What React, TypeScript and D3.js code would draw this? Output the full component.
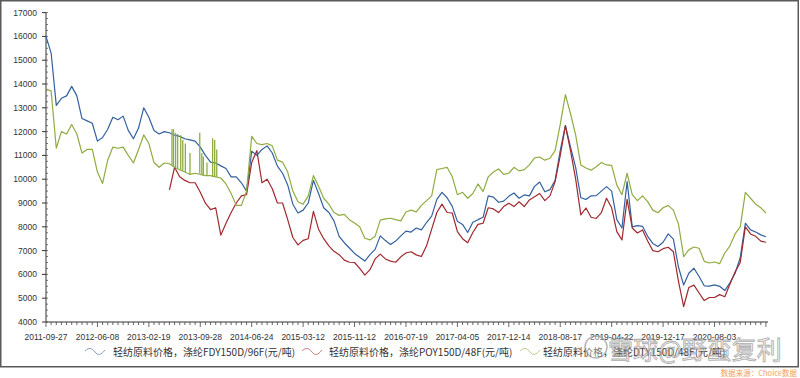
import React from 'react';
import * as d3 from 'd3';

const tickLabels = ['2011-09-27','2012-06-08','2013-02-19','2013-09-28','2014-06-24','2015-03-12','2015-11-12','2016-07-19','2017-04-05','2017-12-14','2018-08-17','2019-04-22','2019-12-17','2020-08-03'];

const seriesNames = [
  '轻纺原料价格，涤纶FDY150D/96F(元/吨)',
  '轻纺原料价格，涤纶POY150D/48F(元/吨)',
  '轻纺原料价格，涤纶DTY150D/48F(元/吨)',
];

const fdySeries: (number | null)[] = [
  16000, 15300, 13100, 13400, 13500, 13900, 13500, 12550, 12450, 12350,
  11600, 11750, 12100, 12600, 12500, 12650, 12050, 11700, 12150, 13000,
  12600, 12050, 11900, 12000, 11950, 11850, 11800, 11700, 11650, 11600,
  11350, 11000, 10720, 10680, 10560, 10450, 10100, 10100, 9850, 9500,
  11180, 11000, 11250, 11400, 11100, 10550, 10250, 9760, 8950, 8580,
  8700, 9000, 9950, 9400, 8800, 8600, 8250, 7600, 7330, 7110,
  6880, 6720, 6560, 6830, 7050, 7620, 7420, 7260, 7400, 7620,
  7820, 7780, 7950, 7870, 8180, 8450, 9150, 9450, 9220, 8860,
  8230, 8100, 7760, 8190, 8300, 8400, 9300, 9250, 9030, 9080,
  9280, 9420, 9200, 9340, 9300, 9700, 9880, 9470, 9560, 9950,
  11200, 12250, 11350, 10500, 9220, 9150, 9300, 9310, 9500, 9690,
  9500, 8300, 7950, 9900, 8000, 8050, 8020, 7600, 7300, 7170,
  7350, 7700, 7480, 6300, 5550, 6050, 6260, 5910, 5520, 5510,
  5560, 5500, 5320, 5650, 6050, 6700, 8150, 7870, 7780, 7660,
  7580,
];

const poySeries: (number | null)[] = [
  null, null, null, null, null, null, null, null, null, null,
  null, null, null, null, null, null, null, null, null, null,
  null, null, null, null, 9550, 10500, 10100, 9950, 9850, 9850,
  9450, 8990, 8720, 8800, 7650, 8150, 8600, 9000, 9300, 9350,
  10700, 11200, 9850, 10000, 9600, 9000, 9000, 8300, 7550, 7240,
  7430, 7500, 8650, 7900, 7500, 7200, 6970, 6830, 6600, 6510,
  6500, 6250, 5970, 6200, 6650, 6850, 6650, 6560, 6510, 6740,
  6900, 6950, 6820, 6750, 7200, 7900, 8600, 8950, 8600, 8580,
  7800, 7500, 7330, 7760, 8100, 8150, 8800, 8750, 8600, 8850,
  8990, 8850, 9050, 8850, 9130, 9260, 9400, 9100, 9300, 9900,
  11000, 12250, 11200, 10000, 8500, 8790, 8400, 8350, 8600, 9200,
  8800, 7800, 7450, 9150, 7950, 7740, 7870, 7400, 7000, 6950,
  7080, 7140, 6950, 5700, 4650, 5450, 5550, 5220, 4900, 5030,
  5030, 5150, 5060, 5600, 6100, 6500, 8000, 7700, 7600, 7400,
  7350,
];

const dtySeries: (number | null)[] = [
  13800, 13700, 11300, 12000, 11900, 12300, 11900, 11100, 11250, 11250,
  10300, 9820, 10800, 11350, 11300, 11350, 11000, 10680, 11250, 11860,
  11500, 10700, 10500, 10680, 10650, 10500, 10400, 10300, 10200, 10250,
  10200, 10150, 10150, 10100, 10050, 9800, 9400, 8900, 8900, 9500,
  11800, 11500, 11450, 11500, 11400, 10800, 10720, 10300, 9500, 9050,
  8950, 9300, 10150, 9700, 9200, 8950, 8600, 8480, 8520, 8300,
  8160, 8000, 7520, 7450, 7600, 8280, 8330, 8360, 8300, 8250,
  8620, 8700, 8630, 8900, 9100, 9300, 10400, 10450, 10500, 10100,
  9350, 9450, 9200, 9400, 9800, 9480, 10100, 10300, 10430, 10200,
  10250, 10500, 10350, 10400, 10600, 10900, 10930, 10800, 10880, 11200,
  12300, 13550, 12750, 11850, 10600, 10470, 10380, 10520, 10700, 10600,
  10580, 9750, 9350, 10250, 9350, 9100, 9300, 9060, 8700, 8590,
  8800, 8900, 8700, 8100, 6750, 7030, 7150, 7100, 6550, 6480,
  6520, 6450, 6900, 7200, 7700, 8000, 9450, 9200, 8950, 8800,
  8580,
];

// DTY series short-lived jumps: [index, low, high]
const dtySpikes: [number, number, number][] = [
  [24.5, 10600, 12100], [24.8, 10500, 12100], [25.2, 10500, 11950], [25.6, 10450, 11900],
  [26.2, 10400, 11850], [26.6, 10350, 11650], [27.1, 10300, 11500], [28.0, 10200, 11100],
  [29.9, 10250, 11950], [30.3, 10200, 11100], [30.6, 10150, 10950], [31.3, 10150, 10700],
  [32.4, 10100, 11720], [32.8, 10100, 11650], [33.2, 10100, 11250],
];

const yTickValues = [4000, 5000, 6000, 7000, 8000, 9000, 10000, 11000, 12000, 13000, 14000, 15000, 16000, 17000];
const colors = ['#33609e', '#a0282e', '#8fac42'];

export default function App() {
  const x = d3.scaleLinear().domain([0, 140.4]).range([46, 768]);
  const y = d3.scaleLinear().domain([4000, 17000]).range([322, 12.6]);
  const line = d3
    .line<number | null>()
    .defined((d) => d != null)
    .x((_, i) => x(i))
    .y((d) => y(d as number));

  const allSeries = [fdySeries, poySeries, dtySeries];
  const minorX = d3.range(0, 141);
  const minorY = d3.range(4000, 17001, 250);
  const numFont = '"Liberation Sans", Arial, sans-serif';
  const cjkFont = '"Noto Sans CJK SC", "Liberation Sans", sans-serif';

  const legendPos = [
    { icon: 85, text: 113 },
    { icon: 302, text: 329 },
    { icon: 520, text: 543 },
  ];
  const legendY = 352;

  return (
    <svg width={800} height={378} style={{ position: 'absolute', left: 0, top: 0, background: '#fff' }}>
      <rect x={0} y={0} width={800} height={378} fill="#fff" />
      <rect x={0.75} y={0.75} width={797.5} height={366} fill="none" stroke="#5a5a5a" strokeWidth={1.5} />

      {/* y axis */}
      <line x1={46} x2={46} y1={y(17000)} y2={322} stroke="#333" strokeWidth={1} />
      {minorY.map((v) => (
        <line key={'my' + v} x1={46} x2={48} y1={y(v)} y2={y(v)} stroke="#555" strokeWidth={0.8} />
      ))}
      {yTickValues.map((v) => (
        <g key={'y' + v}>
          <line x1={42} x2={46} y1={y(v)} y2={y(v)} stroke="#333" strokeWidth={1} />
          <text x={37} y={y(v) + 3} textAnchor="end" fontSize={8.5} fontFamily={numFont} fill="#333">
            {v}
          </text>
        </g>
      ))}

      {/* x axis */}
      <line x1={46} x2={768} y1={322} y2={322} stroke="#333" strokeWidth={1} />
      {minorX.map((i) => (
        <line key={'mx' + i} x1={x(i)} x2={x(i)} y1={322} y2={i % 10 === 0 ? 327 : 325} stroke="#444" strokeWidth={0.8} />
      ))}
      {tickLabels.map((t, k) => (
        <text key={t} x={x(k * 10)} y={339.5} textAnchor="middle" fontSize={8.5} fontFamily={numFont} fill="#333">
          {t}
        </text>
      ))}

      {/* series */}
      {allSeries.map((s, k) => (
        <path key={'s' + k} d={line(s) || ''} fill="none" stroke={colors[k]} strokeWidth={1.2} strokeLinejoin="round" />
      ))}
      {dtySpikes.map(([i, lo, hi], k) => (
        <line key={'sp' + k} x1={x(i)} x2={x(i)} y1={y(lo)} y2={y(hi)} stroke={colors[2]} strokeWidth={1.3} />
      ))}

      {/* legend */}
      {seriesNames.map((name, k) => {
        const ix = legendPos[k].icon;
        const iy = legendY;
        return (
          <g key={'lg' + k}>
            <path
              d={`M${ix},${iy - 1} C${ix + 4},${iy - 5} ${ix + 7},${iy - 4} ${ix + 10},${iy} S${ix + 16},${iy + 3} ${ix + 20},${iy - 2}`}
              fill="none"
              stroke={colors[k]}
              strokeOpacity={0.6}
              strokeWidth={1}
            />
            <text x={legendPos[k].text} y={iy + 3.5} fontSize={10} fontFamily={cjkFont} fill="#333">
              {name}
            </text>
          </g>
        );
      })}

      {/* watermark */}
      <g opacity={0.7}>
        <circle cx={596} cy={347} r={11} fill="rgba(255,255,255,0.5)" stroke="#999" strokeWidth={1.5} />
        <text x={608} y={359} fontSize={25} fontFamily={cjkFont} fill="rgba(235,235,235,0.7)" stroke="#8a8a8a" strokeWidth={0.8}>
          雪球@野蛮复利
        </text>
      </g>

      {/* source */}
      <text x={797} y={375.5} textAnchor="end" fontSize={7.5} fontFamily={cjkFont} fill="#f0a060">
        数据来源：Choice数据
      </text>
    </svg>
  );
}
